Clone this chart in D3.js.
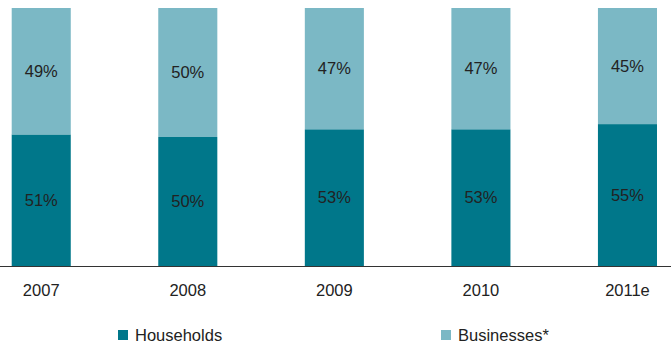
<!DOCTYPE html>
<html><head><meta charset="utf-8">
<script src="https://cdn.jsdelivr.net/npm/d3@7"></script>
<style>body{margin:0;background:#fff}svg{display:block}text{font-family:"Liberation Sans",Arial,sans-serif}</style>
</head><body>
<svg id="c" width="671" height="355"></svg>
<script>
const categories = ["2007","2008","2009","2010","2011e"];
const households = [51,50,53,53,55];
const businesses = [49,50,47,47,45];
const seriesNames = ["Households","Businesses*"];
const colors = ["#00778a","#7bb8c5"];

const svg = d3.select("#c");
const x = d3.scaleBand().domain(categories).range([11.7,657]).paddingInner(0.597).paddingOuter(0);
const y = d3.scaleLinear().domain([0,100]).range([266,8]);

const data = categories.map((c,i)=>({c, h:households[i], b:businesses[i]}));
const stack = d3.stack().keys(["h","b"])(data);

stack.forEach((layer,li)=>{
  svg.append("g").selectAll("rect").data(layer).join("rect")
    .attr("x",d=>x(d.data.c)).attr("width",x.bandwidth())
    .attr("y",d=>y(d[1])).attr("height",d=>y(d[0])-y(d[1]))
    .attr("fill",colors[li]);
  svg.append("g").selectAll("text").data(layer).join("text")
    .attr("x",d=>x(d.data.c)+x.bandwidth()/2)
    .attr("y",d=>(y(d[0])+y(d[1]))/2)
    .attr("dy","0.35em").attr("text-anchor","middle")
    .attr("font-size",16.5).attr("fill","#222")
    .text(d=>(d[1]-d[0])+"%");
});

svg.append("line").attr("x1",0).attr("x2",671).attr("y1",266.5).attr("y2",266.5)
  .attr("stroke","#333").attr("stroke-width",1);

const axis = d3.axisBottom(x).tickSize(0).tickPadding(0);
const ga = svg.append("g").attr("transform","translate(0,266)").call(axis);
ga.select(".domain").remove();
ga.selectAll("text").attr("font-size",16.5).attr("fill","#222").attr("y",24).attr("dy","0.35em");

const legX = [118,441];
const leg = svg.append("g").selectAll("g").data(seriesNames).join("g")
  .attr("transform",(d,i)=>`translate(${legX[i]},335)`);
leg.append("rect").attr("x",0).attr("y",-5).attr("width",10).attr("height",10).attr("fill",(d,i)=>colors[i]);
leg.append("text").attr("x",17).attr("dy","0.35em").attr("font-size",16.5).attr("fill","#222").text(d=>d);
</script>
</body></html>
